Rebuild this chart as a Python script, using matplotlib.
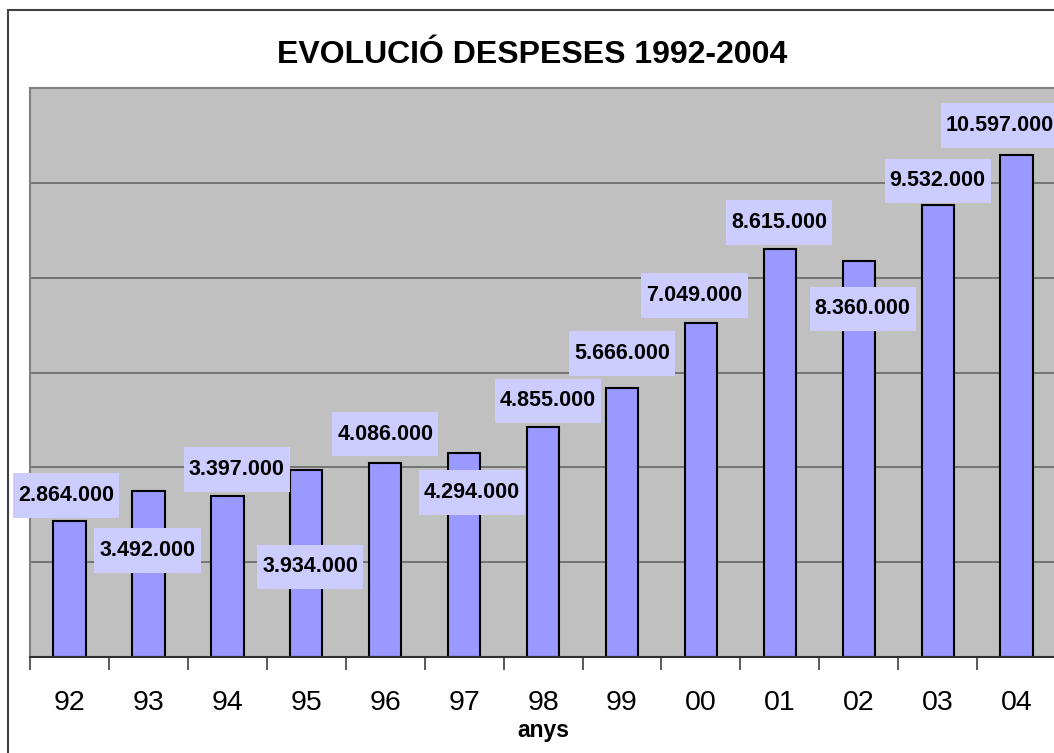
import matplotlib
matplotlib.use("Agg")
import matplotlib.pyplot as plt
from matplotlib.path import Path
from matplotlib.patches import Rectangle

# ---- data ----
years = ["92", "93", "94", "95", "96", "97", "98", "99", "00", "01", "02", "03", "04"]
despeses = [2864000, 3492000, 3397000, 3934000, 4086000, 4294000, 4855000,
            5666000, 7049000, 8615000, 8360000, 9532000, 10597000]
title = "EVOLUCIÓ DESPESES 1992-2004"
xlabel = "anys"

# label placement (layout only): x offset in categories, y centre in data units
label_dx = [-0.04, -0.01, 0.12, 0.05, 0.0, 0.10, 0.06, 0.0, -0.08, -0.01, 0.05, 0.0, -0.21]
label_y = [3.40e6, 2.24e6, 3.96e6, 1.90e6, 4.70e6, 3.47e6, 5.40e6,
           6.40e6, 7.62e6, 9.17e6, 7.34e6, 10.04e6, 11.21e6]

plt.rcParams['font.family'] = ['Liberation Sans', 'DejaVu Sans']

W, H = 1054, 753
fig = plt.figure(figsize=(W / 100, H / 100), dpi=100)

# outer chart frame
fig.patches.append(Rectangle((8 / W, -0.05), 1.2, 1 - 10 / H + 0.05, transform=fig.transFigure,
                             fill=False, edgecolor="#404040", linewidth=1.5, zorder=0))

ax = fig.add_axes([30 / W, (H - 657) / H, (W - 30) / W + 0.002, (657 - 88) / H])
ax.set_facecolor("#C0C0C0")

x = list(range(len(years)))
ax.bar(x, despeses, width=0.41, color="#9999FF", edgecolor="black", linewidth=1.5, zorder=3)

ax.set_xlim(-0.5, len(years) - 0.5)
ax.set_ylim(0, 12000000)
ax.set_yticks([2e6 * k for k in range(1, 6)])
ax.yaxis.grid(True, color="#666666", linewidth=1.2, zorder=1)
ax.set_axisbelow(True)
ax.tick_params(axis="y", left=False, labelleft=False)

ax.set_xticks(x)
ax.set_xticklabels(years, fontsize=20.5)
ax.tick_params(axis="x", which="major", length=0, pad=24)
ax.set_xticks([i - 0.5 for i in range(len(years) + 1)], minor=True)
ax.tick_params(axis="x", which="minor", length=9, width=1.2, color="#404040", direction="out")

for s in ["top", "left"]:
    ax.spines[s].set_color("#808080")
    ax.spines[s].set_linewidth(1.5)
ax.spines["right"].set_visible(False)
ax.spines["bottom"].set_color("#303030")
ax.spines["bottom"].set_linewidth(1.5)
ax.spines["bottom"].set_zorder(4)

ax.set_xlabel(xlabel, fontsize=16.5, fontweight="bold", labelpad=2)


def label_box(x0, y0, width, height, mutation_size):
    px = 0.24 * mutation_size
    py = 0.55 * mutation_size
    verts = [(x0 - px, y0 - py), (x0 + width + px, y0 - py),
             (x0 + width + px, y0 + height + py), (x0 - px, y0 + height + py),
             (x0 - px, y0 - py)]
    codes = [Path.MOVETO, Path.LINETO, Path.LINETO, Path.LINETO, Path.CLOSEPOLY]
    return Path(verts, codes)


def fmt(v):
    return f"{v:,}".replace(",", ".")


for i, v in enumerate(despeses):
    ax.text(i + label_dx[i], label_y[i], fmt(v), ha="center", va="center",
            fontsize=15.5, fontweight="bold", zorder=5, clip_on=False,
            bbox=dict(boxstyle=label_box, facecolor="#CCCCFF", edgecolor="none"))

fig.text(532 / W, 1 - 55 / H, title, ha="center", va="center",
         fontsize=23, fontweight="bold")

fig.savefig("out.png", dpi=100)
